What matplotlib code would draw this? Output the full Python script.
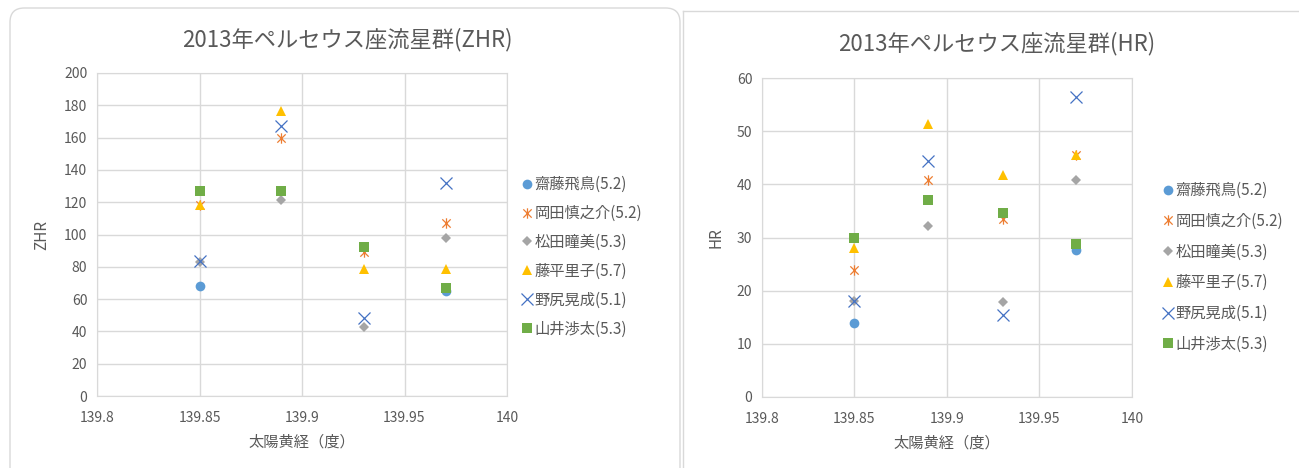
import matplotlib
matplotlib.use('Agg')
import matplotlib.pyplot as plt
from matplotlib.patches import FancyBboxPatch
from matplotlib.lines import Line2D
from matplotlib.path import Path
import numpy as np

plt.rcParams['font.family'] = ['Noto Sans CJK JP', 'DejaVu Sans']

# --- data ---
solar_long = [139.85, 139.89, 139.93, 139.97]
names = ['齋藤飛鳥(5.2)', '岡田慎之介(5.2)', '松田瞳美(5.3)',
         '藤平里子(5.7)', '野尻晃成(5.1)', '山井渉太(5.3)']

zhr_saito = [68, np.nan, np.nan, 65]
zhr_okada = [118, 160, 89, 107]
zhr_matsuda = [83, 121.5, 43, 98]
zhr_fujihira = [118, 176.5, 78.5, 78.5]
zhr_nojiri = [83.5, 167, 48, 132]
zhr_yamai = [127, 127, 92.5, 67]

hr_saito = [14, np.nan, np.nan, 27.6]
hr_okada = [23.8, 40.9, 33.4, 45.6]
hr_matsuda = [18, 32.2, 17.9, 40.8]
hr_fujihira = [28, 51.4, 41.8, 45.6]
hr_nojiri = [18, 44.3, 15.5, 56.4]
hr_yamai = [30, 37.1, 34.7, 28.8]

zhr_series = [zhr_saito, zhr_okada, zhr_matsuda, zhr_fujihira, zhr_nojiri, zhr_yamai]
hr_series = [hr_saito, hr_okada, hr_matsuda, hr_fujihira, hr_nojiri, hr_yamai]

# excel-like "star" marker: an x with a vertical bar
star = Path([(-1, -1), (1, 1), (-1, 1), (1, -1), (0, -1.25), (0, 1.25)],
            [Path.MOVETO, Path.LINETO, Path.MOVETO, Path.LINETO, Path.MOVETO, Path.LINETO])

styles = [
    dict(marker='o', color='#5B9BD5', ms=7, mew=0),
    dict(marker=star, color='#ED7D31', ms=7.5, mew=0.9, mfc='none'),
    dict(marker='D', color='#A5A5A5', ms=5, mew=0),
    dict(marker='^', color='#FFC000', ms=7.5, mew=0),
    dict(marker='x', color='#4472C4', ms=8, mew=0.9),
    dict(marker='s', color='#70AD47', ms=7, mew=0),
]

txt = '#595959'
grid = '#D9D9D9'

fig = plt.figure(figsize=(12.99, 4.68), dpi=100)
fig.patch.set_facecolor('white')

# chart frames
W, H = 1299, 468
frame = FancyBboxPatch((10 / W, -0.1), 670 / W, (468 - 8) / H + 0.1,
                       boxstyle='round,pad=0,rounding_size=0.011',
                       transform=fig.transFigure, facecolor='none',
                       edgecolor='#D9D9D9', lw=1.0, mutation_aspect=W / H, zorder=-1)
fig.patches.append(frame)
fig.add_artist(Line2D([683 / W, 683 / W], [0, 1 - 11 / H], color='#D9D9D9', lw=1.0,
                      transform=fig.transFigure))
fig.add_artist(Line2D([683 / W, 1], [1 - 11 / H, 1 - 11 / H], color='#D9D9D9', lw=1.0,
                      transform=fig.transFigure))


def draw(ax, series, ylim, ystep, ylabel, ypad):
    for vals, name, st in zip(series, names, styles):
        ax.plot(solar_long, vals, linestyle='none', label=name, zorder=3, **st)
    ax.set_xlim(139.8, 140)
    ax.set_ylim(0, ylim)
    ax.set_xticks([139.8, 139.85, 139.9, 139.95, 140])
    ax.set_xticklabels(['139.8', '139.85', '139.9', '139.95', '140'])
    ax.set_yticks(np.arange(0, ylim + 1, ystep))
    ax.grid(True, color=grid, lw=1.0, zorder=0)
    ax.set_axisbelow(True)
    for s in ax.spines.values():
        s.set_color(grid)
    ax.tick_params(axis='x', length=0, labelsize=10, labelcolor=txt, pad=11)
    ax.tick_params(axis='y', length=0, labelsize=10, labelcolor=txt, pad=7)
    ax.set_xlabel('太陽黄経（度）', fontsize=11, color=txt, labelpad=6)
    ax.set_ylabel(ylabel, fontsize=11, color=txt, labelpad=ypad)


ax1 = fig.add_axes([97 / W, 72 / H, 410 / W, 323 / H])
draw(ax1, zhr_series, 200, 20, 'ZHR', 10)
fig.text(347 / W, 1 - 40 / H, '2013年ペルセウス座流星群(ZHR)', ha='center', va='center',
         fontsize=16, color=txt)
ax1.legend(loc='upper left', bbox_to_anchor=(522 / W, 1 - 176 / H),
           bbox_transform=fig.transFigure, frameon=False, fontsize=11,
           labelcolor=txt, handlelength=0.6, handletextpad=0.2,
           labelspacing=0.78, borderaxespad=0, borderpad=0)

ax2 = fig.add_axes([762 / W, 71 / H, 370 / W, 319 / H])
draw(ax2, hr_series, 60, 10, 'HR', 9)
fig.text(997 / W, 1 - 44 / H, '2013年ペルセウス座流星群(HR)', ha='center', va='center',
         fontsize=16, color=txt)
ax2.legend(loc='upper left', bbox_to_anchor=(1163 / W, 1 - 182 / H),
           bbox_transform=fig.transFigure, frameon=False, fontsize=11,
           labelcolor=txt, handlelength=0.6, handletextpad=0.2,
           labelspacing=0.9, borderaxespad=0, borderpad=0)

fig.savefig('out.png', dpi=100, facecolor='white')
